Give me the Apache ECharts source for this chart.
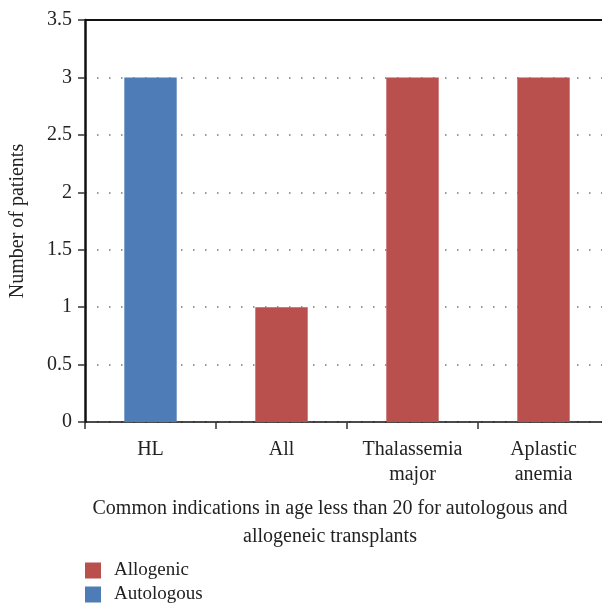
<!DOCTYPE html>
<html>
<head>
<meta charset="utf-8">
<script src="https://cdn.jsdelivr.net/npm/echarts@6/dist/echarts.min.js"></script>
<style>
  html, body { margin: 0; padding: 0; background: #fff; }
  #main { width: 602px; height: 606px; }
</style>
</head>
<body>
<div id="main"></div>
<script>
// categories and values
var categories = ['HL', 'All', 'Thalassemia\nmajor', 'Aplastic\nanemia'];
var allogenic = [0, 1, 3, 3];
var autologous = [3, 0, 0, 0];
var yTicks = [0, 0.5, 1, 1.5, 2, 2.5, 3, 3.5];

var serif = 'Liberation Serif';
var chart = echarts.init(document.getElementById('main'));

var legendText = { fontFamily: serif, fontSize: 19, color: '#222', padding: [0, 0, 0, 8] };

var option = {
  backgroundColor: '#ffffff',
  animation: false,
  color: ['#B9504D', '#4E7CB6'],
  textStyle: { fontFamily: serif },
  grid: { left: 85, width: 524, top: 20, height: 402, containLabel: false, outerBoundsMode: 'none' },
  legend: [{
    left: 85, top: 561, padding: 0,
    itemWidth: 16, itemHeight: 16, icon: 'rect',
    textStyle: legendText,
    data: ['Allogenic']
  }, {
    left: 85, top: 585, padding: 0,
    itemWidth: 16, itemHeight: 16, icon: 'rect',
    textStyle: legendText,
    data: ['Autologous']
  }],
  graphic: [{
    type: 'text',
    x: 330,
    y: 495,
    style: {
      text: 'Common indications in age less than 20 for autologous and\nallogeneic transplants',
      fontFamily: serif,
      fontSize: 20,
      lineHeight: 28,
      fill: '#222',
      textAlign: 'center'
    }
  }],
  xAxis: [{
    type: 'category',
    data: categories,
    axisLine: { lineStyle: { color: '#111', width: 1.5 } },
    axisTick: { show: true, length: 7, lineStyle: { color: '#333', width: 1.5 } },
    axisLabel: { fontFamily: serif, fontSize: 20, color: '#222', margin: 15, lineHeight: 25 }
  }, {
    type: 'category',
    position: 'top',
    data: categories,
    axisLine: { lineStyle: { color: '#111', width: 2 } },
    axisTick: { show: false },
    axisLabel: { show: false }
  }],
  yAxis: {
    type: 'value',
    min: 0,
    max: 3.5,
    interval: 0.5,
    name: 'Number of patients',
    nameLocation: 'middle',
    nameGap: 57,
    nameTextStyle: { fontFamily: serif, fontSize: 20, color: '#222' },
    axisLine: { show: true, lineStyle: { color: '#111', width: 2.5 } },
    axisTick: { show: true, length: 7, lineStyle: { color: '#333', width: 1.5 } },
    axisLabel: {
      fontFamily: serif, fontSize: 20, color: '#222', margin: 13,
      formatter: function (v) { return yTicks.indexOf(v) >= 0 ? String(v) : ''; }
    },
    splitLine: { show: true, lineStyle: { color: '#777', type: [1.5, 10.5], width: 1.5 } }
  },
  series: [{
    name: 'Allogenic',
    type: 'bar',
    stack: 'total',
    barWidth: '40%',
    data: allogenic
  }, {
    name: 'Autologous',
    type: 'bar',
    stack: 'total',
    barWidth: '40%',
    data: autologous
  }]
};
chart.setOption(option);
</script>
</body>
</html>
